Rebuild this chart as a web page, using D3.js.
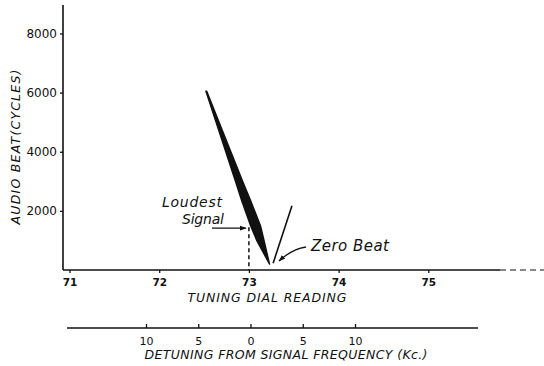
<!DOCTYPE html>
<html><head><meta charset="utf-8">
<script src="https://cdn.jsdelivr.net/npm/d3@7"></script>
<style>body{margin:0;background:#fff}svg{display:block}</style>
</head><body>
<script>
// ---- data ----
const dialTicks = [71, 72, 73, 74, 75];
const beatTicks = [2000, 4000, 6000, 8000];
const detuneTicks = [-10, -5, 0, 5, 10];
const detuneLabels = ["10", "5", "0", "5", "10"];
// black wedge: beat value vs left / right edge of tuning dial reading
const wedgeBeat  = [6050, 3000, 2340, 1490, 980, 200];
const wedgeLeft  = [72.52, 72.85, 72.92, 73.02, 73.09, 73.23];
const wedgeRight = [72.53, 72.93, 73.02, 73.13, 73.17, 73.23];
// thin zero-beat line
const zeroDial = [73.27, 73.48];
const zeroBeat = [230, 2170];
const loudestDial = 73.0;
const loudestBeat = 1450;

const W = 544, H = 366;
const svg = d3.select("body").append("svg").attr("width", W).attr("height", H);
const x = d3.scaleLinear().domain([71, 75]).range([69.5, 428.3]);
const y = d3.scaleLinear().domain([0, 8000]).range([270, 33.5]);
const k = d3.scaleLinear().domain([-10, 10]).range([146, 355]);
const ink = "#111";

// axes lines
svg.append("line").attr("x1", 63).attr("x2", 63).attr("y1", 5).attr("y2", y(0))
  .attr("stroke", ink).attr("stroke-width", 1.6);
svg.append("line").attr("x1", 63).attr("x2", 500).attr("y1", y(0)).attr("y2", y(0))
  .attr("stroke", ink).attr("stroke-width", 1.6);
svg.append("line").attr("x1", 500).attr("x2", 544).attr("y1", y(0)).attr("y2", y(0))
  .attr("stroke", ink).attr("stroke-width", 1).attr("stroke-dasharray", "6,4");

// y axis
const ya = svg.append("g").attr("transform", "translate(63,0)")
  .call(d3.axisLeft(y).tickValues(beatTicks).tickSize(3).tickPadding(3).tickFormat(d3.format("d")));
ya.select(".domain").remove();
ya.selectAll("text").attr("font-family", "DejaVu Sans").attr("font-size", 12).attr("fill", ink);
ya.selectAll("line").attr("stroke", ink).attr("stroke-width", 1.3);

// x axis
const xa = svg.append("g").attr("transform", `translate(0,${y(0)})`)
  .call(d3.axisBottom(x).tickValues(dialTicks).tickSize(3).tickPadding(6).tickFormat(d3.format("d")));
xa.select(".domain").remove();
xa.selectAll("text").attr("font-family", "DejaVu Sans").attr("font-weight", "bold")
  .attr("font-size", 10.5).attr("fill", ink);
xa.selectAll("line").attr("stroke", ink).attr("stroke-width", 1.3);

svg.append("text").attr("x", 267).attr("y", 302).attr("text-anchor", "middle")
  .attr("font-family", "DejaVu Sans").attr("font-style", "italic").attr("font-size", 12.5)
  .attr("textLength", 159).attr("fill", ink).text("TUNING DIAL READING");

svg.append("text").attr("transform", "translate(20,147) rotate(-90)").attr("text-anchor", "middle")
  .attr("font-family", "DejaVu Sans").attr("font-style", "italic").attr("font-size", 12.5)
  .attr("textLength", 155).attr("fill", ink).text("AUDIO BEAT(CYCLES)");

// detuning axis
svg.append("line").attr("x1", 67).attr("x2", 478).attr("y1", 328).attr("y2", 328)
  .attr("stroke", ink).attr("stroke-width", 1.6);
const ka = svg.append("g").attr("transform", "translate(0,328)")
  .call(d3.axisTop(k).tickValues(detuneTicks).tickSize(4).tickFormat((d, i) => detuneLabels[i]));
ka.select(".domain").remove();
ka.selectAll("line").attr("stroke", ink).attr("stroke-width", 1.3);
ka.selectAll("text").attr("y", 17).attr("dy", "0").attr("font-family", "DejaVu Sans")
  .attr("font-size", 11).attr("fill", ink);
svg.append("text").attr("x", 286).attr("y", 359).attr("text-anchor", "middle")
  .attr("font-family", "DejaVu Sans").attr("font-style", "italic").attr("font-size", 12.5)
  .attr("textLength", 283).attr("fill", ink).text("DETUNING FROM SIGNAL FREQUENCY (Kc.)");

// wedge
const wedge = wedgeBeat.map((b, i) => ({b, l: wedgeLeft[i], r: wedgeRight[i]}));
svg.append("path").datum(wedge)
  .attr("d", d3.area().y(d => y(d.b)).x0(d => x(d.l)).x1(d => x(d.r)))
  .attr("fill", ink).attr("stroke", ink).attr("stroke-width", 1.4).attr("stroke-linejoin", "round");

// zero beat line
svg.append("path").datum(zeroDial.map((d, i) => [d, zeroBeat[i]]))
  .attr("d", d3.line().x(d => x(d[0])).y(d => y(d[1])))
  .attr("stroke", ink).attr("stroke-width", 1.6).attr("fill", "none");

// loudest signal dashed line
svg.append("line").attr("x1", x(loudestDial)).attr("x2", x(loudestDial))
  .attr("y1", y(loudestBeat)).attr("y2", y(0))
  .attr("stroke", ink).attr("stroke-width", 1.5).attr("stroke-dasharray", "4,3");

// arrow marker
svg.append("defs").append("marker").attr("id", "ah").attr("viewBox", "0 0 10 10")
  .attr("refX", 9).attr("refY", 5).attr("markerWidth", 7).attr("markerHeight", 7)
  .attr("orient", "auto").attr("markerUnits", "userSpaceOnUse")
  .append("path").attr("d", "M0,1.5 L10,5 L0,8.5 Z").attr("fill", ink);

const ly = y(loudestBeat) + 1;
svg.append("line").attr("x1", 212).attr("x2", x(loudestDial) - 3).attr("y1", ly).attr("y2", ly)
  .attr("stroke", ink).attr("stroke-width", 1.2).attr("marker-end", "url(#ah)");

const ann = {"font-family": "DejaVu Sans", "font-style": "italic", "fill": ink};
function label(t, xx, yy, fs, tl) {
  const e = svg.append("text").attr("x", xx).attr("y", yy).attr("font-size", fs).text(t);
  Object.entries(ann).forEach(([a, v]) => e.attr(a, v));
  if (tl) e.attr("textLength", tl);
}
label("Loudest", 162, 207, 14, 60);
label("Signal", 182, 224, 14, 42);
label("Zero Beat", 311, 251, 15, 78);

svg.append("path").attr("d", "M306,247 Q292,249 279,261")
  .attr("stroke", ink).attr("stroke-width", 1.3).attr("fill", "none").attr("marker-end", "url(#ah)");
</script>
</body></html>
